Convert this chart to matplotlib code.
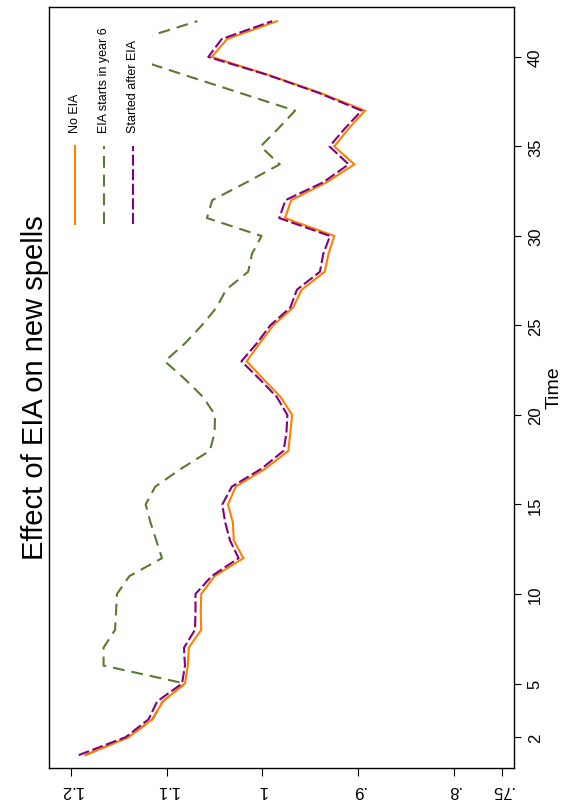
import matplotlib
matplotlib.use("Agg")
import matplotlib.pyplot as plt
from matplotlib.patches import Rectangle
from matplotlib.lines import Line2D

plt.rcParams['font.family'] = ['Liberation Sans', 'DejaVu Sans']
plt.rcParams['lines.scale_dashes'] = False

time = list(range(1, 43))
no_eia = [1.185, 1.140, 1.115, 1.104, 1.081, 1.078, 1.077, 1.064, 1.0645, 1.064,
          1.050, 1.020, 1.030, 1.031, 1.036, 1.028, 0.997, 0.973, 0.971, 0.969,
          0.981, 0.999, 1.0165, 1.003, 0.989, 0.968, 0.959, 0.935, 0.931, 0.925,
          0.9765, 0.970, 0.933, 0.904, 0.925, 0.910, 0.893, 0.940, 0.994, 1.053,
          1.037, 0.985]
eia_year6 = [1.185, 1.140, 1.115, 1.104, 1.081, 1.166, 1.166, 1.154, 1.153, 1.152,
             1.139, 1.105, 1.111, 1.117, 1.122, 1.112, 1.085, 1.055, 1.050, 1.0496,
             1.062, 1.081, 1.102, 1.081, 1.0635, 1.048, 1.038, 1.015, 1.011, 1.001,
             1.058, 1.0525, 1.0165, 0.982, 1.002, 0.9835, 0.966, 1.024, 1.082, 1.139,
             1.128, 1.068]
after_eia = [1.192, 1.143, 1.119, 1.110, 1.084, 1.081, 1.082, 1.0705, 1.070, 1.070,
             1.053, 1.025, 1.034, 1.039, 1.042, 1.032, 1.001, 0.978, 0.975, 0.974,
             0.985, 1.003, 1.022, 1.006, 0.992, 0.971, 0.964, 0.940, 0.9365, 0.9295,
             0.9825, 0.976, 0.9365, 0.910, 0.930, 0.914, 0.8965, 0.9417, 0.995, 1.0566,
             1.0426, 0.990]
series_labels = ["No EIA", "EIA starts in year 6", "Started after EIA"]
value_ticks = [1.2, 1.1, 1.0, 0.9, 0.8, 0.75]
value_ticklabels = ["1.2", "1.1", "1", ".9", ".8", ".75"]
time_ticks = [2, 5, 10, 15, 20, 25, 30, 35, 40]
title = "Effect of EIA on new spells"
time_label = "Time"

W, H = 565, 803
fig = plt.figure(figsize=(W / 100, H / 100), dpi=100)

def fx(px):
    return px / W

def fy(py):
    return 1 - py / H

ax_l, ax_r, ax_t, ax_b = 49, 514, 8, 769
ax = fig.add_axes([fx(ax_l), fy(ax_b), fx(ax_r) - fx(ax_l), fy(ax_t) - fy(ax_b)])

orange = '#FF8000'
green = '#5A7A30'
purple = '#800080'

ax.plot(no_eia, time, color=orange, lw=1.5, solid_joinstyle='miter', zorder=3)
ax.plot(eia_year6, time, color=green, lw=1.5, dashes=(8.5, 5), zorder=2)
ax.plot(after_eia, time, color=purple, lw=1.5, dashes=(8, 2.5), zorder=4)

ax.set_xlim(1.223, 0.7373)
ax.set_ylim(0.28, 42.79)

ax.set_xticks(value_ticks)
ax.set_xticklabels(value_ticklabels, rotation=180, fontsize=12)
ax.yaxis.tick_right()
ax.set_yticks(time_ticks)
ax.set_yticklabels([str(t) for t in time_ticks], rotation=90, fontsize=12, va='center')
ax.tick_params(axis='x', length=6, width=0.8, pad=4, colors='black')
ax.tick_params(axis='y', length=5, width=0.8, pad=5, colors='black')
for s in ax.spines.values():
    s.set_linewidth(1.0)
    s.set_color('black')

fig.text(fx(554), fy(388), time_label, rotation=90, fontsize=14, ha='center', va='center')
fig.text(fx(35), fy(388), title, rotation=90, fontsize=21, ha='center', va='center')

# legend (white region covering lines, as in original)
rect = Rectangle((fx(58), fy(238)), fx(152) - fx(58), fy(16) - fy(238),
                 transform=fig.transFigure, facecolor='white', edgecolor='none', zorder=5)
fig.add_artist(rect)
key_x = [75, 104, 133]
styles = [dict(color=orange, lw=1.5),
          dict(color=green, lw=1.5, dashes=(8.5, 5)),
          dict(color=purple, lw=1.5, dashes=(8, 2.5))]
for kx, lab, st in zip(key_x, series_labels, styles):
    ln = Line2D([fx(kx), fx(kx)], [fy(225), fy(147)], transform=fig.transFigure, zorder=6, **st)
    fig.add_artist(ln)
    fig.text(fx(kx), fy(133), lab, rotation=90, fontsize=9, ha='center', va='bottom', zorder=6)

fig.savefig('out.png', dpi=100)
